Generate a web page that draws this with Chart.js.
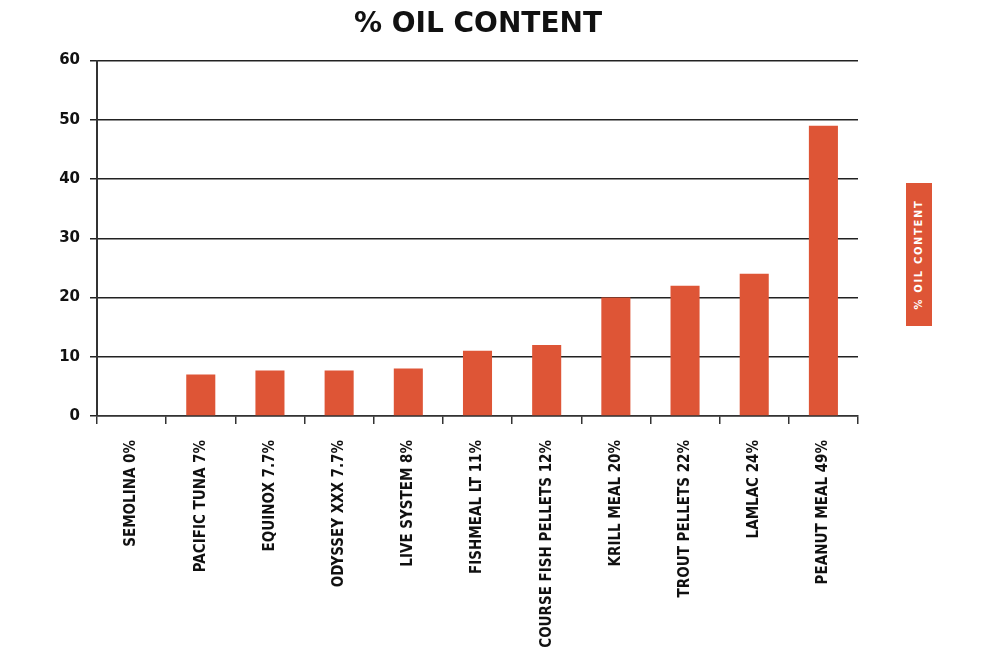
<!DOCTYPE html>
<html><head><meta charset="utf-8">
<script src="https://cdn.jsdelivr.net/npm/chart.js@4"></script>
<style>
html,body{margin:0;padding:0;background:#fff;width:1000px;height:662px;overflow:hidden}
#wrap{position:absolute;left:0;top:0;width:956px;height:662px}
#legend{position:absolute;left:906px;top:183px;width:26px;height:143px;background:#DE5536;display:flex;align-items:center;justify-content:center}
#legend span{transform:rotate(-90deg);white-space:nowrap;color:#fff;font:bold 11px "DejaVu Sans Condensed","DejaVu Sans";letter-spacing:1.7px}
</style></head>
<body>
<div id="wrap"><canvas id="c"></canvas></div>
<div id="legend"><span id="legendText"></span></div>
<script>
const chartTitle = "% OIL CONTENT";
const seriesName = "% OIL CONTENT";
const categories = ["SEMOLINA 0%","PACIFIC TUNA 7%","EQUINOX 7.7%","ODYSSEY XXX 7.7%","LIVE SYSTEM 8%","FISHMEAL LT 11%","COURSE FISH PELLETS 12%","KRILL MEAL 20%","TROUT PELLETS 22%","LAMLAC 24%","PEANUT MEAL 49%"];
const oilContent = [0, 7, 7.7, 7.7, 8, 11, 12, 20, 22, 24, 49];
const yMin = 0, yMax = 60, yStep = 10;

document.getElementById('legendText').textContent = seriesName;
const barColor = '#DE5536';
const ink = '#111111';

new Chart(document.getElementById('c'), {
  type: 'bar',
  data: {
    labels: categories,
    datasets: [{
      label: seriesName,
      data: oilContent,
      backgroundColor: barColor,
      borderWidth: 0,
      barPercentage: 0.42,
      categoryPercentage: 1.0
    }]
  },
  options: {
    responsive: true,
    maintainAspectRatio: false,
    animation: false,
    layout: { padding: 0 },
    plugins: {
      legend: { display: false },
      tooltip: { enabled: false },
      title: {
        display: true,
        text: chartTitle,
        color: ink,
        font: { family: '"DejaVu Sans"', size: 28, weight: 'bold' },
        padding: { top: 8, bottom: 19 }
      }
    },
    scales: {
      x: {
        grid: { display: true, drawOnChartArea: false, offset: true, color: '#333', lineWidth: 1.5, tickLength: 8, tickColor: '#333' },
        border: { display: true, color: '#333', width: 1.5 },
        ticks: {
          color: ink, maxRotation: 90, minRotation: 90, autoSkip: false, padding: 16,
          font: { family: '"DejaVu Sans Condensed","DejaVu Sans"', size: 15, weight: 'bold' }
        },
        afterFit: s => { s.height = 662 - 416; }
      },
      y: {
        min: yMin, max: yMax,
        grid: { color: '#222', lineWidth: 1.5, tickLength: 7, tickColor: '#222' },
        border: { display: true, color: '#333', width: 2 },
        ticks: {
          stepSize: yStep, color: ink, padding: 10,
          font: { family: '"DejaVu Sans"', size: 15, weight: 'bold' }
        },
        afterFit: s => { s.width = 97; }
      },
      yRight: {
        position: 'right', axis: 'y', display: true,
        grid: { display: false, drawOnChartArea: false },
        border: { display: false },
        ticks: { display: false },
        afterFit: s => { s.width = 98; }
      }
    }
  }
});
</script>
</body></html>
